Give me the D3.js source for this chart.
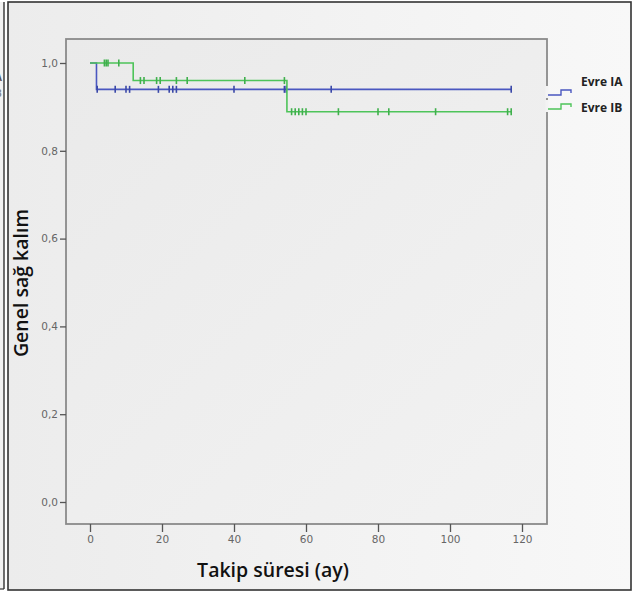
<!DOCTYPE html>
<html><head><meta charset="utf-8">
<script src="https://cdn.jsdelivr.net/npm/d3@7"></script>
<style>html,body{margin:0;padding:0;background:#fff;}svg{display:block;}</style>
</head><body>
<script>
// ---- data ----
const xTicks = [0, 20, 40, 60, 80, 100, 120];
const yTicks = [0, 0.2, 0.4, 0.6, 0.8, 1.0];
const groups = ["Evre IA", "Evre IB"];
const iaStepTimes = [0, 1.8];
const iaStepSurv = [1.0, 0.94];
const iaEnd = 117;
const iaCensored = [2, 7, 10, 11, 19, 22, 23, 24, 40, 54, 54.5, 67, 117];
const ibStepTimes = [0, 12, 54.7];
const ibStepSurv = [1.0, 0.96, 0.889];
const ibEnd = 117;
const ibCensored = [4, 4.5, 5, 8, 14, 15, 18.5, 19.5, 24, 27, 43, 54, 56, 57, 58, 59, 60, 69, 80, 83, 96, 116, 117];
const xTitle = "Takip süresi (ay)";
const yTitle = "Genel sağ kalım";

const W = 632, H = 593;
const colors = ["#4a57c0", "#4ec45a"];
const svg = d3.select("body").append("svg").attr("width", W).attr("height", H);
const defs = svg.append("defs");
const g1 = defs.append("linearGradient").attr("id", "bg").attr("x1", "0").attr("x2", "1").attr("y1", "0").attr("y2", "0");
g1.append("stop").attr("offset", "0").attr("stop-color", "#ececec");
g1.append("stop").attr("offset", "1").attr("stop-color", "#f8f8f8");
const g2 = defs.append("linearGradient").attr("id", "pbg").attr("x1", "0").attr("x2", "1").attr("y1", "0").attr("y2", "1");
g2.append("stop").attr("offset", "0").attr("stop-color", "#eaeaea");
g2.append("stop").attr("offset", "1").attr("stop-color", "#f2f2f2");

// background + panel frames
svg.append("rect").attr("x", 0).attr("y", 0).attr("width", W).attr("height", H).attr("fill", "#fff");
svg.append("rect").attr("x", 8).attr("y", 2).attr("width", 623).attr("height", 588).attr("fill", "url(#bg)").attr("stroke", "#333").attr("stroke-width", 1.6);
svg.append("rect").attr("x", 0).attr("y", 2).attr("width", 4).attr("height", 587).attr("fill", "#f2f2f2");
svg.append("line").attr("x1", 4).attr("x2", 4).attr("y1", 2).attr("y2", 589).attr("stroke", "#333").attr("stroke-width", 1.4);
svg.append("line").attr("x1", 0).attr("x2", 4).attr("y1", 589).attr("y2", 589).attr("stroke", "#333").attr("stroke-width", 1.2);
svg.append("text").attr("x", -5).attr("y", 81).attr("font-family", "Open Sans").attr("font-weight", 700).attr("font-size", 10).attr("fill", "#555").text("A");
svg.append("text").attr("x", -5).attr("y", 97).attr("font-family", "Open Sans").attr("font-weight", 700).attr("font-size", 10).attr("fill", "#888").text("B");

// plot area
const PL = 66, PR = 547, PT = 39, PB = 524;
const x = d3.scaleLinear().domain([0, 120]).range([90, 522]);
const y = d3.scaleLinear().domain([0, 1]).range([502, 63]);
svg.append("rect").attr("x", PL).attr("y", PT).attr("width", PR - PL).attr("height", PB - PT)
  .attr("fill", "url(#pbg)").attr("stroke", "#8a8a8a").attr("stroke-width", 1.8);

// axes
const xAxis = svg.append("g").attr("transform", `translate(0,${PB})`)
  .call(d3.axisBottom(x).tickValues(xTicks).tickSize(8).tickPadding(4).tickFormat(d3.format("d")));
const yAxis = svg.append("g").attr("transform", `translate(${PL},0)`)
  .call(d3.axisLeft(y).tickValues(yTicks).tickSize(6).tickPadding(2).tickFormat(d => d3.format(".1f")(d).replace(".", ",")));
[xAxis, yAxis].forEach(a => {
  a.select(".domain").remove();
  a.selectAll(".tick line").attr("stroke", "#555").attr("stroke-width", 1.3);
  a.selectAll(".tick text").attr("font-family", "DejaVu Sans").attr("font-size", 10.5).attr("fill", "#666");
});

// KM curves
function stepPath(times, surv, end) {
  const pts = [];
  for (let i = 0; i < times.length; i++) {
    if (i > 0) pts.push([times[i], surv[i - 1]]);
    pts.push([times[i], surv[i]]);
  }
  pts.push([end, surv[surv.length - 1]]);
  return d3.line().x(d => x(d[0])).y(d => y(d[1]))(pts);
}
function survAt(times, surv, t) {
  let s = surv[0];
  for (let i = 0; i < times.length; i++) if (times[i] <= t) s = surv[i];
  return s;
}
const series = [
  {times: iaStepTimes, surv: iaStepSurv, end: iaEnd, cens: iaCensored},
  {times: ibStepTimes, surv: ibStepSurv, end: ibEnd, cens: ibCensored}
];
series.forEach((s, i) => {
  svg.append("path").attr("d", stepPath(s.times, s.surv, s.end)).attr("fill", "none")
    .attr("stroke", colors[i]).attr("stroke-width", 1.6);
  svg.append("g").selectAll("line").data(s.cens).join("line")
    .attr("x1", d => x(d)).attr("x2", d => x(d))
    .attr("y1", d => y(survAt(s.times, s.surv, d)) - 3.5)
    .attr("y2", d => y(survAt(s.times, s.surv, d)) + 3.5)
    .attr("stroke", i === 0 ? "#3a48a8" : "#3fb04c").attr("stroke-width", 1.6);
});

// legend
const legText = [86, 112];
const legSym = [95, 109];
groups.forEach((gname, i) => {
  const lg = svg.append("g");
  const by = legSym[i];
  lg.append("rect").attr("x", PR - 1.5).attr("y", by - 9).attr("width", 3).attr("height", 12).attr("fill", "#f3f3f3");
  lg.append("path").attr("d", `M548,${by} H561 V${by - 5} H571 V${by - 2}`)
    .attr("fill", "none").attr("stroke", colors[i]).attr("stroke-width", 1.4);
  lg.append("text").attr("x", 581).attr("y", legText[i]).attr("font-family", "Open Sans").attr("font-weight", 700)
    .attr("font-size", 12).attr("fill", "#222").text(gname);
});

// titles
svg.append("text").attr("x", 273).attr("y", 577).attr("text-anchor", "middle")
  .attr("font-family", "Open Sans").attr("font-weight", 600).attr("font-size", 19.5).attr("fill", "#111").text(xTitle);
svg.append("text").attr("transform", "translate(28,283) rotate(-90)").attr("text-anchor", "middle")
  .attr("font-family", "Open Sans").attr("font-weight", 600).attr("font-size", 19.5).attr("fill", "#111").text(yTitle);
</script>
</body></html>
